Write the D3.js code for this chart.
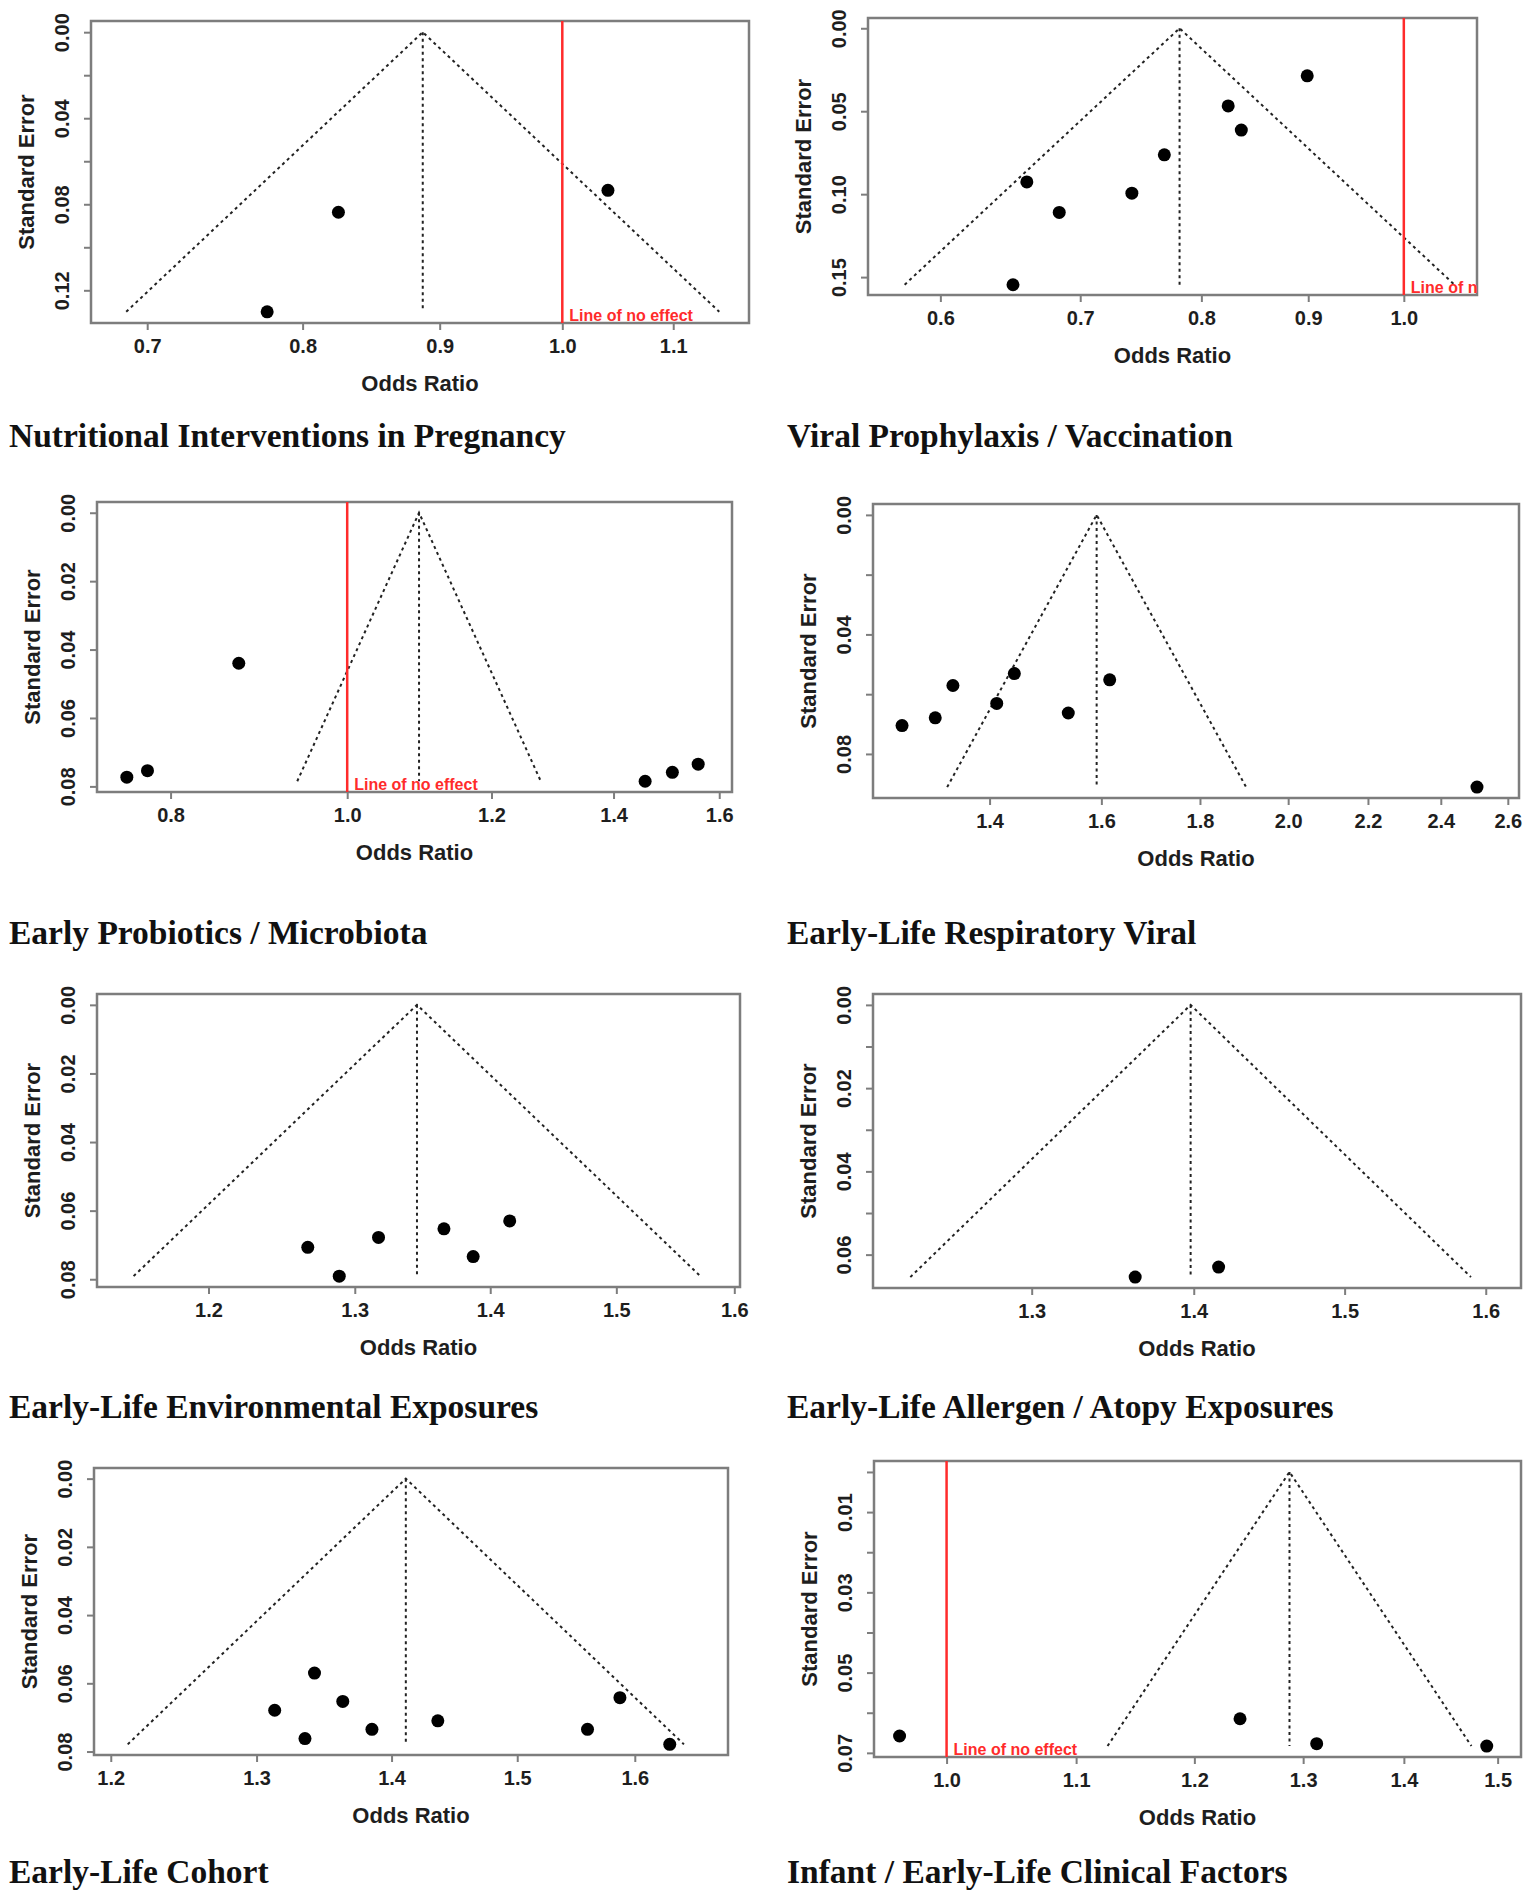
<!DOCTYPE html>
<html>
<head>
<meta charset="utf-8">
<script src="https://cdn.jsdelivr.net/npm/d3@7"></script>
<style>
  body { margin: 0; background: #fff; }
  svg { display: block; }
</style>
</head>
<body>
<div id="chart"></div>
<script>
// Funnel plots, one per exposure group (odds ratio on log axis vs standard error)
var titles = [
  "Nutritional Interventions in Pregnancy",
  "Viral Prophylaxis / Vaccination",
  "Early Probiotics / Microbiota",
  "Early-Life Respiratory Viral",
  "Early-Life Environmental Exposures",
  "Early-Life Allergen / Atopy Exposures",
  "Early-Life Cohort",
  "Infant / Early-Life Clinical Factors"
];

// pooled estimates (funnel apex)
var pooledOR = [0.887, 0.781, 1.095, 1.591, 1.345, 1.398, 1.411, 1.287];

// study odds ratios and standard errors
var nutritionOR = [0.776, 0.825, 1.040];
var nutritionSE = [0.130, 0.0837, 0.0735];
var viralOR = [0.899, 0.824, 0.836, 0.768, 0.660, 0.741, 0.684, 0.650];
var viralSE = [0.0287, 0.0468, 0.0614, 0.0763, 0.0926, 0.0994, 0.111, 0.1546];
var probioticsOR = [0.757, 0.777, 0.872, 1.457, 1.508, 1.558];
var probioticsSE = [0.0773, 0.0754, 0.0440, 0.0785, 0.0759, 0.0735];
var respiratoryOR = [1.261, 1.312, 1.340, 1.412, 1.442, 1.538, 1.616, 2.506];
var respiratorySE = [0.0705, 0.0679, 0.0571, 0.0631, 0.0531, 0.0663, 0.0552, 0.0911];
var environmentalOR = [1.267, 1.289, 1.317, 1.365, 1.387, 1.415];
var environmentalSE = [0.0707, 0.0791, 0.0678, 0.0653, 0.0734, 0.0630];
var allergenOR = [1.363, 1.416];
var allergenSE = [0.0654, 0.0630];
var cohortOR = [1.342, 1.313, 1.363, 1.335, 1.385, 1.436, 1.559, 1.587, 1.631];
var cohortSE = [0.0570, 0.0679, 0.0653, 0.0762, 0.0735, 0.0710, 0.0735, 0.0642, 0.0779];
var clinicalOR = [0.966, 1.241, 1.313, 1.488];
var clinicalSE = [0.0658, 0.0615, 0.0677, 0.0683];

// x axis extent (odds ratio) and ticks
var xDomains = [[0.667, 1.174], [0.554, 1.084], [0.729, 1.626], [1.218, 2.635],
                [1.129, 1.605], [1.209, 1.626], [1.189, 1.684], [0.948, 1.526]];
var xTicks = [
  [0.7, 0.8, 0.9, 1.0, 1.1],
  [0.6, 0.7, 0.8, 0.9, 1.0],
  [0.8, 1.0, 1.2, 1.4, 1.6],
  [1.4, 1.6, 1.8, 2.0, 2.2, 2.4, 2.6],
  [1.2, 1.3, 1.4, 1.5, 1.6],
  [1.3, 1.4, 1.5, 1.6],
  [1.2, 1.3, 1.4, 1.5, 1.6],
  [1.0, 1.1, 1.2, 1.3, 1.4, 1.5]
];
// y ticks and which of them carry a label
var yTicks = [
  [0, 0.02, 0.04, 0.06, 0.08, 0.10, 0.12],
  [0, 0.05, 0.10, 0.15],
  [0, 0.02, 0.04, 0.06, 0.08],
  [0, 0.02, 0.04, 0.06, 0.08],
  [0, 0.02, 0.04, 0.06, 0.08],
  [0, 0.01, 0.02, 0.03, 0.04, 0.05, 0.06],
  [0, 0.02, 0.04, 0.06, 0.08],
  [0, 0.01, 0.02, 0.03, 0.04, 0.05, 0.06, 0.07]
];
var yLabelled = [
  [0, 0.04, 0.08, 0.12],
  [0, 0.05, 0.10, 0.15],
  [0, 0.02, 0.04, 0.06, 0.08],
  [0, 0.04, 0.08],
  [0, 0.02, 0.04, 0.06, 0.08],
  [0, 0.02, 0.04, 0.06],
  [0, 0.02, 0.04, 0.06, 0.08],
  [0.01, 0.03, 0.05, 0.07]
];
var showNoEffect = [true, true, true, false, false, false, false, true];

var studyOR = [nutritionOR, viralOR, probioticsOR, respiratoryOR, environmentalOR, allergenOR, cohortOR, clinicalOR];
var studySE = [nutritionSE, viralSE, probioticsSE, respiratorySE, environmentalSE, allergenSE, cohortSE, clinicalSE];

// layout of the plot frames
var boxes = [
  { x0: 91,  x1: 749,  y0: 21,   y1: 323 },
  { x0: 868, x1: 1477, y0: 18,   y1: 295 },
  { x0: 97,  x1: 732,  y0: 502,  y1: 792 },
  { x0: 873, x1: 1519, y0: 504,  y1: 798 },
  { x0: 97,  x1: 740,  y0: 994,  y1: 1287 },
  { x0: 873, x1: 1521, y0: 994,  y1: 1288 },
  { x0: 94,  x1: 728,  y0: 1468, y1: 1755 },
  { x0: 874, x1: 1521, y0: 1461, y1: 1757 }
];
var titleY = [447, 944, 1418, 1883];
var titleX = [9, 787];

var FRAME = '#7d7d7d';
var RED = '#ff2b2b';
var SANS = 'Liberation Sans, Arial, Helvetica, sans-serif';

var svg = d3.select("#chart").append("svg")
  .attr("width", 1535)
  .attr("height", 1895);

var defs = svg.append("defs");

titles.forEach(function(title, i) {
  var b = boxes[i];
  var ors = studyOR[i], ses = studySE[i];
  var maxSE = d3.max(ses);

  var x = d3.scaleLog().domain(xDomains[i]).range([b.x0, b.x1]);
  var y = d3.scaleLinear().domain([-0.04 * maxSE, 1.04 * maxSE]).range([b.y0, b.y1]);

  var g = svg.append("g");

  defs.append("clipPath").attr("id", "clip" + i)
    .append("rect")
    .attr("x", b.x0).attr("y", b.y0)
    .attr("width", b.x1 - b.x0).attr("height", b.y1 - b.y0);

  // frame
  g.append("rect")
    .attr("x", b.x0).attr("y", b.y0)
    .attr("width", b.x1 - b.x0).attr("height", b.y1 - b.y0)
    .attr("fill", "none")
    .attr("stroke", FRAME)
    .attr("stroke-width", 2.5);

  // x axis
  var xa = g.append("g")
    .attr("transform", `translate(0,${b.y1})`)
    .call(d3.axisBottom(x).tickValues(xTicks[i]).tickSize(7).tickPadding(9)
      .tickFormat(d3.format(".1f")));
  xa.select(".domain").remove();
  xa.selectAll("line").attr("stroke", FRAME).attr("stroke-width", 2);
  xa.selectAll("text")
    .attr("font-family", SANS).attr("font-size", 20).attr("font-weight", "bold")
    .attr("fill", "#1e1e1e");

  // y axis (labels parallel to the axis, like base R)
  var labelled = yLabelled[i].map(function(v) { return v.toFixed(3); });
  var ya = g.append("g")
    .attr("transform", `translate(${b.x0},0)`)
    .call(d3.axisLeft(y).tickValues(yTicks[i]).tickSize(7)
      .tickFormat(function(d) { return labelled.indexOf(d.toFixed(3)) !== -1 ? d3.format(".2f")(d) : ""; }));
  ya.select(".domain").remove();
  ya.selectAll("line").attr("stroke", FRAME).attr("stroke-width", 2);
  ya.selectAll("text")
    .attr("x", null).attr("dy", "0.35em")
    .attr("text-anchor", "middle")
    .attr("transform", "translate(-29,0) rotate(-90)")
    .attr("font-family", SANS).attr("font-size", 20).attr("font-weight", "bold")
    .attr("fill", "#1e1e1e");

  // axis titles
  g.append("text")
    .attr("x", (b.x0 + b.x1) / 2).attr("y", b.y1 + 68)
    .attr("text-anchor", "middle")
    .attr("font-family", SANS).attr("font-size", 22).attr("font-weight", "bold")
    .attr("fill", "#1e1e1e")
    .text("Odds Ratio");

  g.append("text")
    .attr("transform", `translate(${b.x0 - 65},${(b.y0 + b.y1) / 2}) rotate(-90)`)
    .attr("dy", "0.35em")
    .attr("text-anchor", "middle")
    .attr("font-family", SANS).attr("font-size", 22).attr("font-weight", "bold")
    .attr("fill", "#1e1e1e")
    .text("Standard Error");

  // funnel: pseudo 95% limits around the pooled estimate
  var est = Math.log(pooledOR[i]);
  var lo = Math.exp(est - 1.96 * maxSE), hi = Math.exp(est + 1.96 * maxSE);
  var funnel = [[lo, maxSE], [pooledOR[i], 0], [hi, maxSE]];

  g.append("path")
    .datum(funnel)
    .attr("d", d3.line().x(function(d) { return x(d[0]); }).y(function(d) { return y(d[1]); }))
    .attr("fill", "none")
    .attr("stroke", "#222")
    .attr("stroke-width", 2)
    .attr("stroke-dasharray", "3,3.5");

  g.append("line")
    .attr("x1", x(pooledOR[i])).attr("x2", x(pooledOR[i]))
    .attr("y1", y(0)).attr("y2", y(maxSE))
    .attr("stroke", "#222")
    .attr("stroke-width", 2)
    .attr("stroke-dasharray", "3,3.5");

  // line of no effect
  if (showNoEffect[i]) {
    var red = g.append("g").attr("clip-path", `url(#clip${i})`);
    red.append("line")
      .attr("x1", x(1)).attr("x2", x(1))
      .attr("y1", b.y0).attr("y2", b.y1)
      .attr("stroke", RED).attr("stroke-width", 2.5);
    red.append("text")
      .attr("x", x(1) + 7).attr("y", b.y1 - 2)
      .attr("font-family", SANS).attr("font-size", 16).attr("font-weight", "bold")
      .attr("fill", RED)
      .text("Line of no effect");
  }

  // studies
  g.append("g")
    .selectAll("circle")
    .data(ors.map(function(o, k) { return { or: o, se: ses[k] }; }))
    .enter()
    .append("circle")
    .attr("cx", function(d) { return x(d.or); })
    .attr("cy", function(d) { return y(d.se); })
    .attr("r", 6.5)
    .attr("fill", "#000");

  // panel caption
  svg.append("text")
    .attr("x", titleX[i % 2]).attr("y", titleY[Math.floor(i / 2)])
    .attr("font-family", "Liberation Serif, 'Times New Roman', serif")
    .attr("font-size", 33.5).attr("font-weight", "bold")
    .attr("fill", "#111")
    .text(title);
});
</script>
</body>
</html>
